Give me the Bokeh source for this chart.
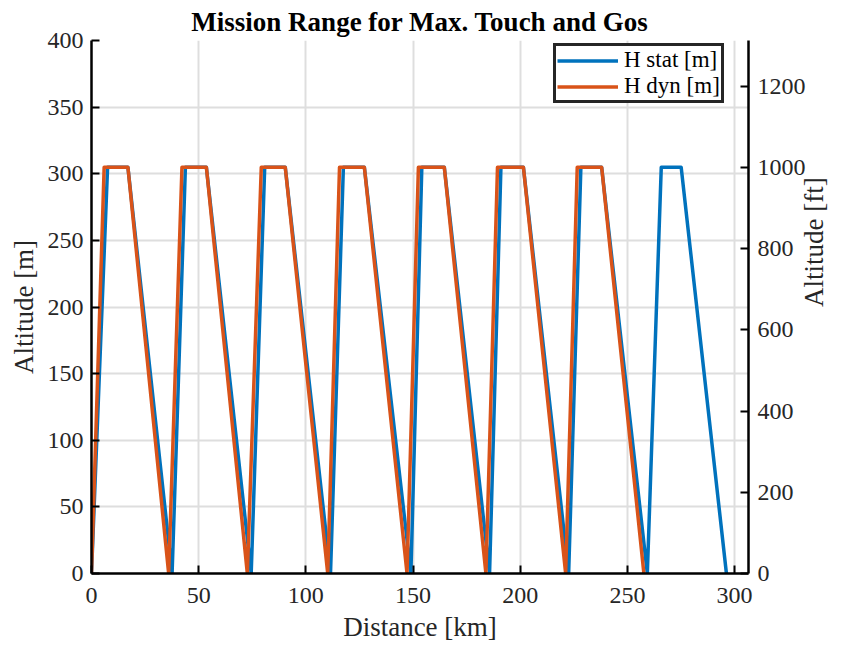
import math
from bokeh.plotting import figure
from bokeh.models import (LinearAxis, Range1d, FixedTicker, Legend, LegendItem, Title)
from bokeh.embed import file_html
from bokeh.resources import INLINE

# Altitude profile of repeated touch-and-go circuits (distance in km, altitude in m)
stat_dist = [0, 7.5, 17.0, 37.6, 43.8, 53.6, 74.5, 80.8, 90.4, 111.5, 117.5, 127.3,
             149.0, 154.1, 164.6, 185.7, 191.0, 201.5, 222.6, 228.3, 238.0, 259.3,
             265.8, 275.1, 296.2]
stat_alt = [0, 304.8, 304.8, 0, 304.8, 304.8, 0, 304.8, 304.8, 0, 304.8, 304.8,
            0, 304.8, 304.8, 0, 304.8, 304.8, 0, 304.8, 304.8, 0, 304.8, 304.8, 0]

dyn_dist = [0, 5.9, 17.0, 36.0, 42.2, 53.6, 72.7, 79.2, 90.4, 110.2, 115.7, 127.3,
            147.2, 152.5, 164.6, 184.0, 189.4, 201.5, 221.2, 226.6, 238.0, 257.7]
dyn_alt = [0, 304.8, 304.8, 0, 304.8, 304.8, 0, 304.8, 304.8, 0, 304.8, 304.8,
           0, 304.8, 304.8, 0, 304.8, 304.8, 0, 304.8, 304.8, 0]

x_ticks = [0, 50, 100, 150, 200, 250, 300]
y_ticks = [0, 50, 100, 150, 200, 250, 300, 350, 400]
ft_ticks = [0, 200, 400, 600, 800, 1000, 1200]

FONT = "Liberation Serif"
BLUE = "#0072BD"
ORANGE = "#D95319"

p = figure(width=847, height=646, x_range=Range1d(0, 306.5), y_range=Range1d(0, 400),
           output_backend="svg", toolbar_location=None,
           min_border_left=91, min_border_right=99, min_border_top=40, min_border_bottom=73)
p.title = Title(text="Mission Range for Max. Touch and Gos", align="center",
                text_font=FONT, text_font_size="27px", text_font_style="bold",
                text_color="black", offset=0, standoff=8)
p.outline_line_color = None
p.background_fill_color = "white"
p.border_fill_color = "white"

p.extra_y_ranges = {"ft": Range1d(0, 400 / 0.3048)}
right_axis = LinearAxis(y_range_name="ft", axis_label="Altitude [ft]")
p.add_layout(right_axis, "right")

for ax in [p.xaxis[0], p.yaxis[0], right_axis]:
    ax.axis_line_color = "black"
    ax.axis_line_width = 2.5
    ax.major_tick_line_color = "black"
    ax.major_tick_line_width = 2
    ax.major_tick_in = 8
    ax.major_tick_out = 0
    ax.minor_tick_line_color = None
    ax.major_label_text_font = FONT
    ax.major_label_text_font_size = "24px"
    ax.major_label_text_color = "#262626"
    ax.axis_label_text_font = FONT
    ax.axis_label_text_font_size = "27px"
    ax.axis_label_text_font_style = "normal"
    ax.axis_label_text_color = "#262626"

p.xaxis.axis_label = "Distance [km]"
p.yaxis[0].axis_label = "Altitude [m]"
p.xaxis.ticker = FixedTicker(ticks=x_ticks)
p.yaxis[0].ticker = FixedTicker(ticks=y_ticks)
right_axis.ticker = FixedTicker(ticks=ft_ticks)
right_axis.axis_label_orientation = math.pi / 2
p.xaxis.major_label_standoff = 14
p.yaxis[0].major_label_standoff = 8
right_axis.major_label_standoff = 9
p.xaxis.axis_label_standoff = 6
p.yaxis[0].axis_label_standoff = 6
right_axis.axis_label_standoff = 5

p.xgrid.ticker = FixedTicker(ticks=x_ticks)
p.ygrid.ticker = FixedTicker(ticks=y_ticks)
for g in [p.xgrid[0], p.ygrid[0]]:
    g.grid_line_color = "#dedede"
    g.grid_line_width = 2

r_stat = p.line(stat_dist, stat_alt, line_color=BLUE, line_width=3.5, line_join="round")
r_dyn = p.line(dyn_dist, dyn_alt, line_color=ORANGE, line_width=3.5, line_join="round")

legend = Legend(items=[LegendItem(label="H stat [m]", renderers=[r_stat]),
                       LegendItem(label="H dyn [m]", renderers=[r_dyn])],
                location=(462, 470))
legend.border_line_color = "#262626"
legend.border_line_alpha = 1
legend.border_line_width = 3
legend.background_fill_color = "white"
legend.background_fill_alpha = 1
legend.label_text_font = FONT
legend.label_text_font_size = "23px"
legend.label_text_color = "black"
legend.glyph_width = 61
legend.glyph_height = 25
legend.label_height = 25
legend.label_standoff = 6
legend.padding = 1
legend.spacing = 0
legend.margin = 0
p.add_layout(legend, "center")

open("out.html", "w").write(file_html(p, INLINE))
